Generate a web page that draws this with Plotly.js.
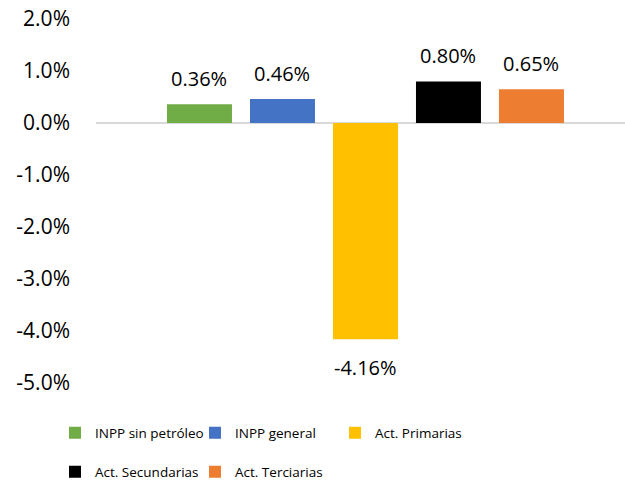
<!DOCTYPE html>
<html>
<head>
<meta charset="utf-8">
<script src="https://cdn.plot.ly/plotly-3.0.1.min.js"></script>
<style>
  html, body { margin: 0; padding: 0; background: #fff; }
  #chart { width: 625px; height: 482px; }
</style>
</head>
<body>
<div id="chart"></div>
<script>
// --- Data ---
const seriesNames = ['INPP sin petróleo', 'INPP general', 'Act. Primarias', 'Act. Secundarias', 'Act. Terciarias'];
const seriesValues = [0.0036, 0.0046, -0.0416, 0.0080, 0.0065];
const valueLabels = ['0.36%', '0.46%', '-4.16%', '0.80%', '0.65%'];
const seriesColors = ['#70AD47', '#4472C4', '#FFC000', '#000000', '#ED7D31'];
const legendRow = ['legend', 'legend', 'legend', 'legend2', 'legend2'];

const tickValues = [0.02, 0.01, 0, -0.01, -0.02, -0.03, -0.04, -0.05];
const tickLabels = ['2.0%', '1.0%', '0.0%', '-1.0%', '-2.0%', '-3.0%', '-4.0%', '-5.0%'];

const fontFamily = '"Open Sans", "Noto Sans", sans-serif';

// one trace per series so each gets its own legend entry
const traces = seriesNames.map((name, i) => ({
    type: 'bar',
    x: [name],
    y: [seriesValues[i]],
    name: name,
    legend: legendRow[i],
    marker: { color: seriesColors[i] },
    hoverinfo: 'skip'
}));

// value labels above / below each bar
const annotations = seriesNames.map((name, i) => {
    const up = seriesValues[i] >= 0;
    return {
        x: name,
        y: seriesValues[i],
        text: valueLabels[i],
        showarrow: false,
        yanchor: up ? 'bottom' : 'top',
        yshift: up ? 10 : -13,
        font: { family: fontFamily, size: 20, color: '#000' }
    };
});

const legendStyle = {
    orientation: 'h',
    xref: 'container',
    yref: 'container',
    x: 0.088,
    xanchor: 'left',
    yanchor: 'middle',
    entrywidth: 95,
    entrywidthmode: 'pixels',
    font: { family: fontFamily, size: 13.5, color: '#000' },
    bgcolor: 'rgba(0,0,0,0)'
};

const layout = {
    width: 625,
    height: 482,
    margin: { l: 96, r: 0, t: 19, b: 99 },
    paper_bgcolor: '#fff',
    plot_bgcolor: '#fff',
    barmode: 'overlay',
    bargap: 0.217,
    font: { family: fontFamily, color: '#000' },
    xaxis: {
        type: 'category',
        range: [-1.247, 5.127],
        showticklabels: false,
        showgrid: false,
        zeroline: false,
        showline: false,
        ticks: ''
    },
    yaxis: {
        range: [-0.05, 0.02],
        tickvals: tickValues,
        ticktext: tickLabels,
        showgrid: false,
        showline: false,
        zeroline: true,
        zerolinecolor: '#d9d9d9',
        zerolinewidth: 1.5,
        ticks: '',
        ticklabelstandoff: 25,
        tickfont: { family: fontFamily, size: 21, color: '#000' }
    },
    showlegend: true,
    legend: Object.assign({}, legendStyle, { y: 1 - 433 / 482 }),
    legend2: Object.assign({}, legendStyle, { y: 1 - 472 / 482 }),
    annotations: annotations
};

Plotly.newPlot('chart', traces, layout, { displayModeBar: false, staticPlot: true });
</script>
</body>
</html>
